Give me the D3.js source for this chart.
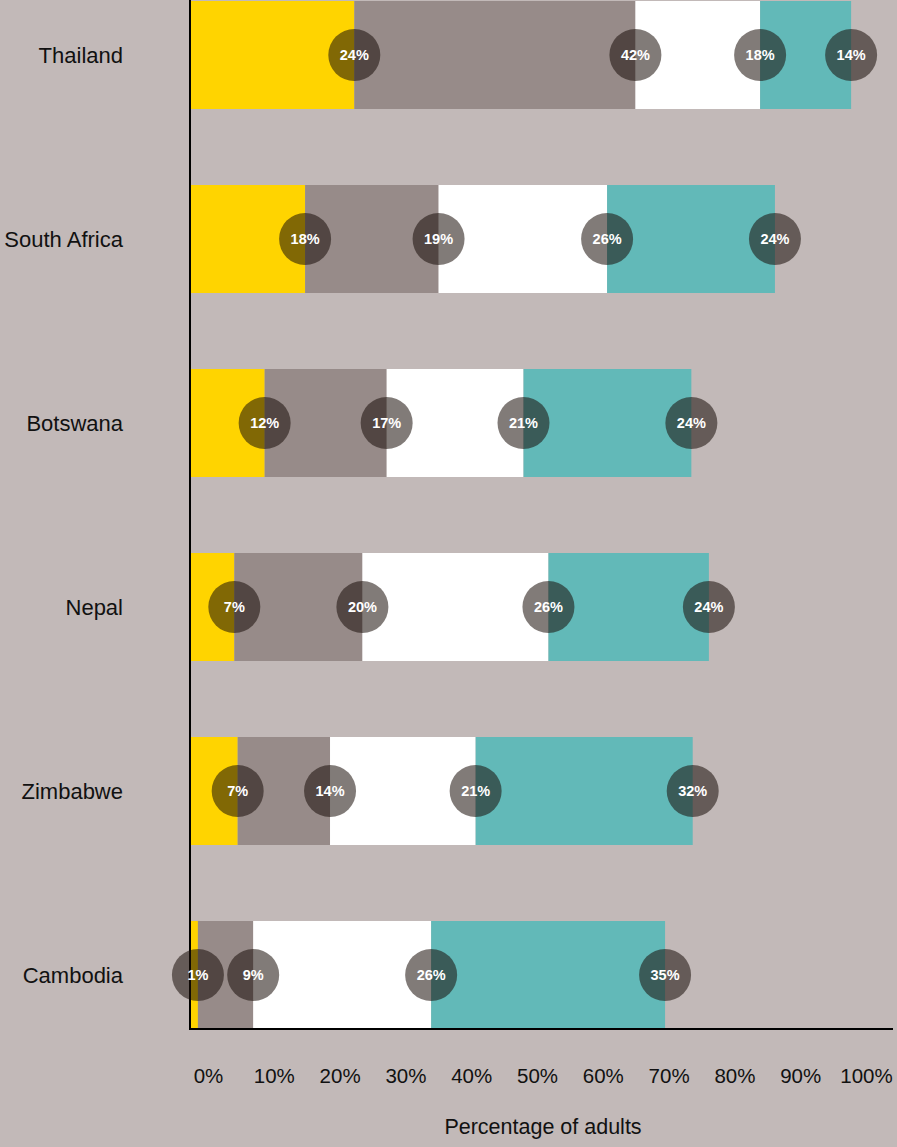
<!DOCTYPE html>
<html>
<head>
<meta charset="utf-8">
<script src="https://cdn.jsdelivr.net/npm/d3@7"></script>
<style>
  body { margin: 0; background: #c2b9b8; }
  svg { display: block; font-family: "Liberation Sans", Arial, sans-serif; }
</style>
</head>
<body>
<div id="chart"></div>
<script>
const countries = ["Thailand", "South Africa", "Botswana", "Nepal", "Zimbabwe", "Cambodia"];
// segment shares as drawn (bar widths, % of adults)
const seg1 = [24.3, 17.0, 11.0, 6.5, 7.0, 1.1];
const seg2 = [41.7, 19.8, 18.1, 19.0, 13.7, 8.2];
const seg3 = [18.5, 25.0, 20.3, 27.6, 21.6, 26.4];
const seg4 = [13.5, 24.9, 24.9, 23.8, 32.2, 34.7];
// printed labels in the circles
const lab1 = ["24%", "18%", "12%", "7%", "7%", "1%"];
const lab2 = ["42%", "19%", "17%", "20%", "14%", "9%"];
const lab3 = ["18%", "26%", "21%", "26%", "21%", "26%"];
const lab4 = ["14%", "24%", "24%", "24%", "32%", "35%"];
const colors = ["#ffd400", "#978b89", "#ffffff", "#62b9b8"];
const ticks = [0, 10, 20, 30, 40, 50, 60, 70, 80, 90, 100];

const W = 897, H = 1147;
const svg = d3.select("#chart").append("svg").attr("width", W).attr("height", H);

const x = d3.scaleLinear().domain([0, 100]).range([190.5, 864.6]);
const xLabel = d3.scaleLinear().domain([0, 100]).range([208, 866]);
const y = d3.scaleBand().domain(countries).range([1, 1029]).paddingInner(76 / 184).paddingOuter(0);

const segs = countries.flatMap((c, i) => {
  const vals = [seg1[i], seg2[i], seg3[i], seg4[i]];
  const labs = [lab1[i], lab2[i], lab3[i], lab4[i]];
  let acc = 0;
  return vals.map((v, k) => {
    const d = { country: c, k, v, label: labs[k], x0: acc, x1: acc + v };
    acc += v;
    return d;
  });
});

// bars
svg.append("g")
  .selectAll("rect")
  .data(segs)
  .join("rect")
  .attr("x", (d) => x(d.x0))
  .attr("y", (d) => y(d.country))
  .attr("width", (d) => x(d.x1) - x(d.x0))
  .attr("height", y.bandwidth())
  .attr("fill", (d) => colors[d.k]);

// axes lines
svg.append("line")
  .attr("x1", 190).attr("x2", 190).attr("y1", 0).attr("y2", 1030)
  .attr("stroke", "#000").attr("stroke-width", 2);
svg.append("line")
  .attr("x1", 189).attr("x2", 893).attr("y1", 1029).attr("y2", 1029)
  .attr("stroke", "#000").attr("stroke-width", 2);

// circles at segment ends
const dots = svg.append("g")
  .selectAll("g")
  .data(segs)
  .join("g")
  .attr("transform", (d) => `translate(${x(d.x1)},${y(d.country) + y.bandwidth() / 2})`);
dots.append("circle")
  .attr("r", 26)
  .attr("fill", "#1a0e0a")
  .attr("fill-opacity", 0.55);
dots.append("text")
  .attr("text-anchor", "middle")
  .attr("dy", "0.36em")
  .attr("fill", "#fff")
  .attr("font-size", 14.5)
  .attr("font-weight", "bold")
  .text((d) => d.label);

// country labels
svg.append("g")
  .selectAll("text")
  .data(countries)
  .join("text")
  .attr("x", 123)
  .attr("y", (d) => y(d) + y.bandwidth() / 2)
  .attr("dy", "0.35em")
  .attr("text-anchor", "end")
  .attr("font-size", 22)
  .attr("fill", "#111")
  .text((d) => d);

// tick labels
const axis = svg.append("g")
  .attr("transform", "translate(0,1065)")
  .call(d3.axisBottom(xLabel).tickValues(ticks).tickSize(0).tickFormat((d) => d + "%"));
axis.select(".domain").remove();
axis.selectAll("text")
  .attr("font-size", 20.5)
  .attr("font-family", "Liberation Sans, Arial, sans-serif")
  .attr("fill", "#111");

svg.append("text")
  .attr("x", 543)
  .attr("y", 1134)
  .attr("text-anchor", "middle")
  .attr("font-size", 21.5)
  .attr("fill", "#111")
  .text("Percentage of adults");
</script>
</body>
</html>
